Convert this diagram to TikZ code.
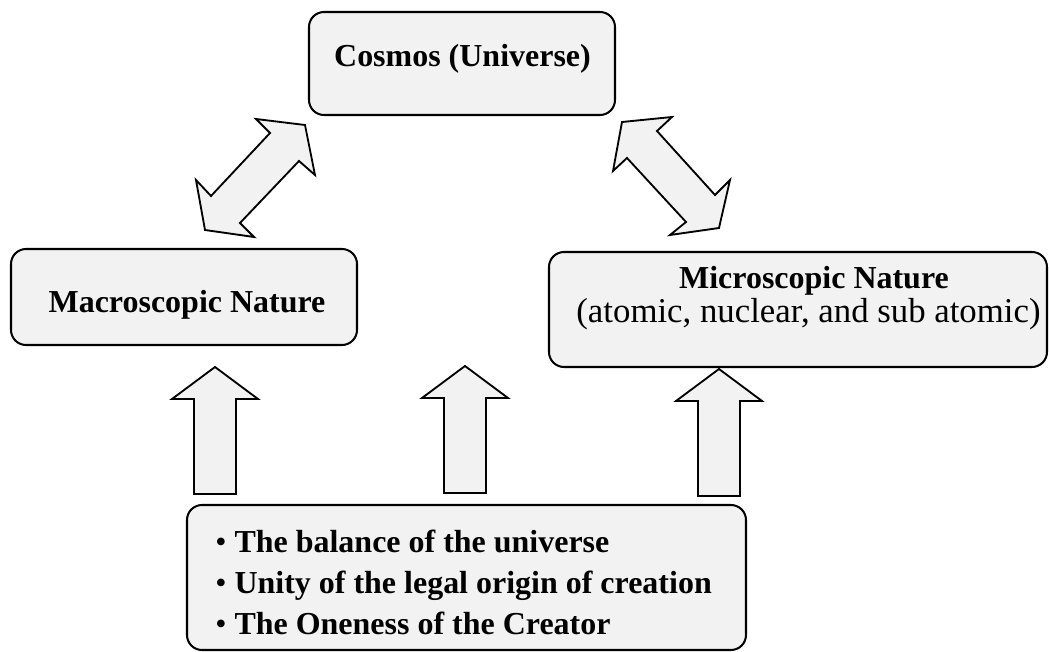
\documentclass[tikz,border=0pt]{standalone}
\usepackage{fontspec}
\setmainfont{Liberation Serif}
\usetikzlibrary{fit}
\definecolor{boxfill}{HTML}{F2F2F2}

\begin{document}
\begin{tikzpicture}[x=0.02cm, y=-0.02cm,
  panel/.style={draw=black, line width=1.15pt, fill=boxfill,
                rounded corners=0.3cm, inner sep=0pt},
  blockarrow/.style={draw=black, line width=1.05pt, fill=boxfill, line join=miter},
  heading/.style={font=\fontsize{18.2}{22}\selectfont\bfseries, anchor=base, inner sep=0pt},
  subline/.style={font=\fontsize{19.8}{24}\selectfont, anchor=base, inner sep=0pt},
  bulletline/.style={font=\fontsize{18.2}{22}\selectfont, anchor=base west, inner sep=0pt},
  uparrow/.pic={\draw[blockarrow] (0,0) -- (43,32) -- (21,32) -- (21,127)
                -- (-21,127) -- (-21,32) -- (-43,32) -- cycle;}]

\useasboundingbox (0,0) rectangle (1049,652);

% boxes
\node[panel, fit={(309,12) (615,115)}] (cosmos) {};
\node[panel, fit={(11,249) (357,345)}] (macro) {};
\node[panel, fit={(549,252) (1047,367)}] (micro) {};
\node[panel, fit={(187,505) (746,650)}] (principles) {};

% box texts
\node[heading] (cosmostext) at (462.5,67) {Cosmos (Universe)};
\node[heading] (macrotext) at (187,312) {Macroscopic Nature};
\node[heading] (microtext) at (814,288) {Microscopic Nature};
\node[subline] (microsub) at (808.5,322) {(atomic, nuclear, and sub atomic)};
\node[bulletline] (p1) at (215,552) {• \textbf{The balance of the universe}};
\node[bulletline] (p2) at (215,593) {• \textbf{Unity of the legal origin of creation}};
\node[bulletline] (p3) at (215,634) {• \textbf{The Oneness of the Creator}};

% two-headed block arrows towards the cosmos
\draw[blockarrow] (305,125) -- (315,175) -- (299,161) -- (240,223) -- (254,237)
  -- (205,230) -- (196,180) -- (211,196) -- (270,133) -- (256,119) -- cycle;
\draw[blockarrow] (622,122) -- (672,117) -- (657,131) -- (715,195) -- (730,180)
  -- (719,228) -- (670,235) -- (686,222) -- (627,158) -- (613,171) -- cycle;

% upward block arrows from the principles
\pic at (215,367) {uparrow};
\pic at (465,366) {uparrow};
\pic at (719,369) {uparrow};

\end{tikzpicture}
\end{document}
